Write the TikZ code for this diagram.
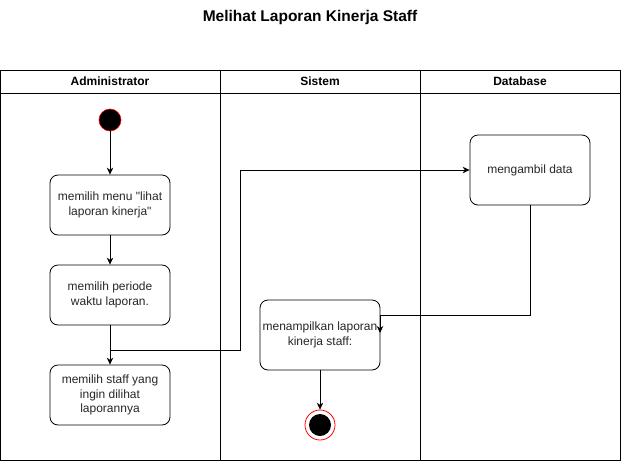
\documentclass[tikz,border=0pt]{standalone}
\usepackage{fontspec}
\setmainfont{Liberation Sans}
\usetikzlibrary{arrows.meta}
\begin{document}
\begin{tikzpicture}[x=1pt,y=-1pt,
  lane/.style={draw,line width=0.8pt},
  act/.style={draw,rounded corners=8pt,minimum width=120pt,align=center,font=\fontsize{12}{14.5}\selectfont,text=black!85,inner sep=0pt,line width=0.8pt},
  hdr/.style={font=\bfseries\fontsize{12}{14}\selectfont},
  flow/.style={line width=0.8pt,-{Stealth[length=7pt,width=6.5pt]}}]
\useasboundingbox (0,0) rectangle (621,461);
\node[font=\bfseries\fontsize{15.5}{18}\selectfont] (title) at (310,17) {Melihat Laporan Kinerja Staff};
% pool
\draw[lane] (0.5,70) rectangle (620,460);
\draw[lane] (0.5,93) -- (620,93);
\draw[lane] (220,70) -- (220,460);
\draw[lane] (420,70) -- (420,460);
\node[hdr] (h1) at (110,81.5) {Administrator};
\node[hdr] (h2) at (320,81.5) {Sistem};
\node[hdr] (h3) at (520,81.5) {Database};
% nodes
\node[circle,fill=black,draw=red,line width=0.6pt,minimum size=22pt,inner sep=0pt] (start) at (110,120) {};
\node[act,minimum height=60pt] (a1) at (110,205) {memilih menu \textquotedbl lihat\\laporan kinerja\textquotedbl};
\node[act,minimum height=60pt] (a2) at (110,295) {memilih periode\\waktu laporan.};
\node[act,minimum height=60pt] (a3) at (110,395) {memilih staff yang\\ingin dilihat\\laporannya};
\node[act,minimum height=70pt] (db) at (530,170) {mengambil data};
\node[act,minimum height=70pt] (s1) at (320,335) {menampilkan laporan\\kinerja staff:};
\node[circle,draw=red,fill=white,line width=0.8pt,minimum size=30pt,inner sep=0pt] (end) at (320,425) {};
\node[circle,fill=black,minimum size=22pt,inner sep=0pt] (endin) at (end) {};
% edges
\coordinate (j1) at (110,350);
\coordinate (j2) at (240,350);
\coordinate (j3) at (240,170);
\coordinate (k1) at (530,315);
\coordinate (k2) at (380,315);
\coordinate (k3) at (380,333);
\draw[flow] (start) -- (a1);
\draw[flow] (a1) -- (a2);
\draw[flow] (a2) -- (a3);
\draw[flow] (j1) -- (j2) -- (j3) -- (db.west);
\draw[flow] (db.south) -- (k1) -- (k2) -- (k3);
\draw[flow] (s1) -- (end);
\end{tikzpicture}
\end{document}
